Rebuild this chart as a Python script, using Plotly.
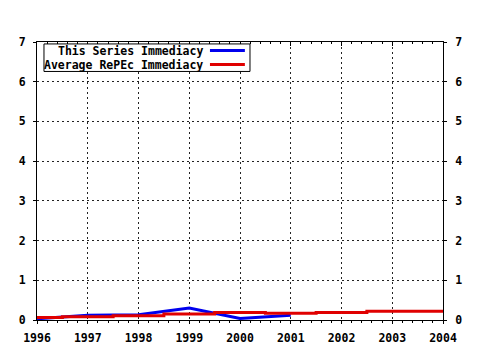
import plotly.graph_objects as go

years_series = [1996, 1997, 1998, 1999, 2000, 2001]
series_immediacy = [0.03, 0.12, 0.13, 0.30, 0.04, 0.12]

years_avg = [1996, 1997, 1998, 1999, 2000, 2001, 2002, 2003, 2004]
avg_immediacy = [0.06, 0.08, 0.11, 0.15, 0.19, 0.17, 0.19, 0.22, 0.22]

x_ticks = [1996, 1997, 1998, 1999, 2000, 2001, 2002, 2003, 2004]
y_ticks = [0, 1, 2, 3, 4, 5, 6, 7]

legend_names = ["This Series Immediacy", "Average RePEc Immediacy"]
BLUE = "#0000ee"
RED = "#e00000"
TICKFONT = dict(family="DejaVu Sans Mono", size=11.5, color="black")

fig = go.Figure()
fig.add_trace(go.Scatter(x=years_series, y=series_immediacy, mode="lines",
                         line=dict(color=BLUE, width=3), showlegend=False))
fig.add_trace(go.Scatter(x=years_avg, y=avg_immediacy, mode="lines",
                         line=dict(color=RED, width=3, shape="hvh"), showlegend=False))

axis_common = dict(showline=True, linecolor="black", linewidth=1,
                   gridcolor="#222222", griddash="2px,3px", gridwidth=1,
                   zeroline=False, tickfont=TICKFONT, tickcolor="black", automargin=False)

fig.update_layout(
    width=480, height=350,
    margin=dict(l=37, r=37, t=42, b=30),
    paper_bgcolor="white", plot_bgcolor="white",
    xaxis=dict(range=[1996, 2004], tickvals=x_ticks, ticktext=[f"<b>{v}</b>" for v in x_ticks],
               ticks="outside", ticklen=3, showgrid=True, mirror=True, ticklabelstandoff=4,
               minor=dict(dtick=0.2, ticks="outside", ticklen=2, tickcolor="black", showgrid=False),
               **axis_common),
    xaxis2=dict(range=[1996, 2004], overlaying="x", side="top", anchor="y", automargin=False,
                tickvals=x_ticks, ticks="inside", ticklen=4, showticklabels=False,
                showgrid=False, showline=False, tickcolor="black",
                minor=dict(dtick=0.2, ticks="inside", ticklen=2, tickcolor="black", showgrid=False)),
    yaxis=dict(range=[0, 7], tickvals=y_ticks, ticktext=[f"<b>{v}</b>" for v in y_ticks],
               ticks="outside", ticklen=3, showgrid=True, mirror=True, ticklabelstandoff=5,
               **axis_common),
    yaxis2=dict(range=[0, 7], overlaying="y", side="right", anchor="x", automargin=False,
                tickvals=y_ticks, ticktext=[f"<b>{v}</b>" for v in y_ticks],
                ticks="outside", ticklen=3, showgrid=False, showline=False, zeroline=False,
                ticklabelstandoff=6, tickcolor="black", tickfont=TICKFONT),
)

# invisible trace so the overlay axes render
fig.add_trace(go.Scatter(x=[x_ticks[0]], y=[y_ticks[0]], xaxis="x2", yaxis="y2",
                         mode="markers", marker=dict(opacity=0), showlegend=False, hoverinfo="skip"))

# custom legend (text on left, line sample on right), paper coords
fig.add_shape(type="rect", xref="paper", yref="paper", x0=0.0172, x1=0.5246, y0=0.894, y1=0.9930,
              line=dict(color="black", width=1), fillcolor="white", layer="above")
rows = [(0.9694, BLUE), (0.919, RED)]
for name, (yy, col) in zip(legend_names, rows):
    fig.add_annotation(xref="paper", yref="paper", x=0.412, y=yy, text=f"<b>{name}</b>",
                       showarrow=False, xanchor="right", yanchor="middle",
                       borderpad=0, font=dict(family="DejaVu Sans Mono", size=11.5, color="black"))
    fig.add_shape(type="line", xref="paper", yref="paper", x0=0.426, x1=0.512, y0=yy, y1=yy,
                  line=dict(color=col, width=3), layer="above")

fig.write_html("out.html")
